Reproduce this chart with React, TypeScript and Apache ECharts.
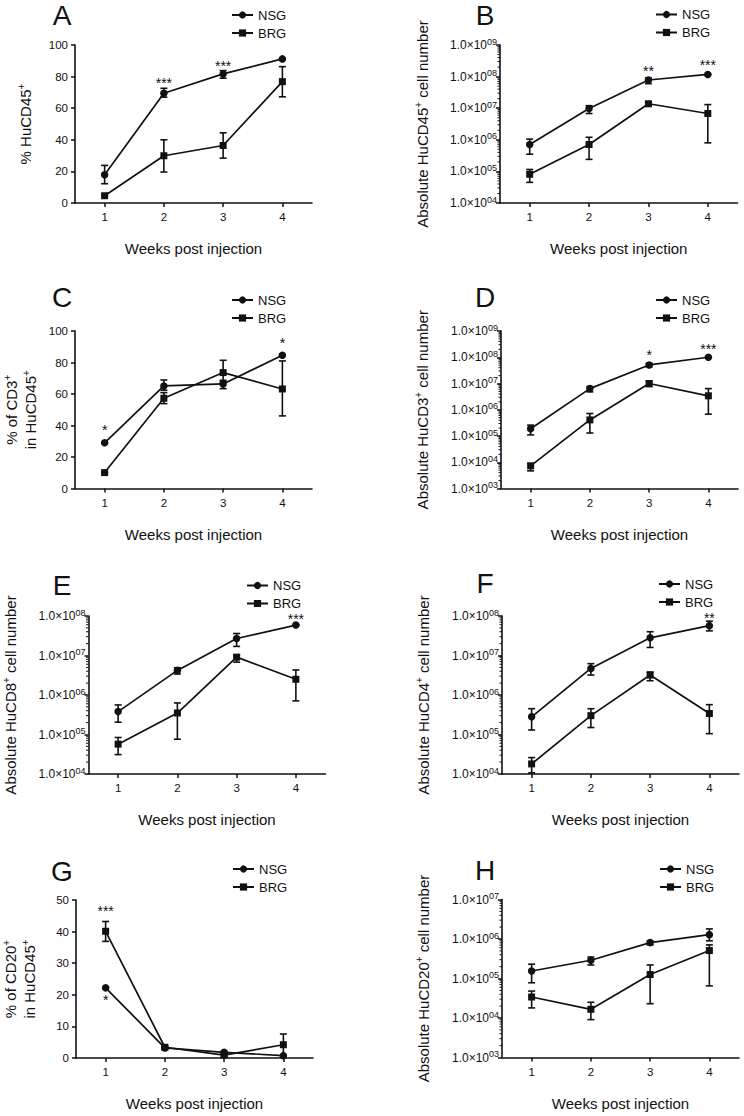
import React, { useEffect, useRef } from "react";
import * as echarts from "echarts";

const FONT = "Liberation Sans, Arial, Helvetica, sans-serif";
const INK = "#111";

const weeks = ["1", "2", "3", "4"];
const legendNames = ["NSG", "BRG"];
const xTitle = "Weeks post injection";

// A: % HuCD45+
const aNsg = [17.9, 69.5, 81.7, 91.2];
const aNsgLo = [12.2, 67.0, 79.0, 91.2];
const aNsgHi = [23.8, 72.6, 83.8, 91.2];
const aBrg = [4.6, 29.9, 36.4, 76.8];
const aBrgLo = [4.6, 19.6, 28.4, 67.2];
const aBrgHi = [4.6, 40.0, 44.4, 86.3];
const aStarIdx = [1, 2];
const aStarVal = [78.5, 89];
const aStarTxt = ["***", "***"];

// B: absolute HuCD45+
const bNsg = [7.1e5, 9.8e6, 7.8e7, 1.17e8];
const bNsgLo = [3.5e5, 6.8e6, 6.0e7, 1.17e8];
const bNsgHi = [1.05e6, 1.2e7, 9.1e7, 1.17e8];
const bBrg = [8.1e4, 7.1e5, 1.38e7, 6.8e6];
const bBrgLo = [4.5e4, 2.4e5, 1.2e7, 8.0e5];
const bBrgHi = [1.15e5, 1.2e6, 1.6e7, 1.3e7];
const bStarIdx = [2, 3];
const bStarVal = [2.0e8, 3.1e8];
const bStarTxt = ["**", "***"];

// C: % CD3+ in HuCD45+
const cNsg = [29.0, 65.1, 66.4, 84.6];
const cNsgLo = [29.0, 62.4, 63.4, 84.6];
const cNsgHi = [29.0, 68.9, 68.7, 84.6];
const cBrg = [10.1, 57.3, 73.6, 63.2];
const cBrgLo = [10.1, 53.9, 67.9, 46.1];
const cBrgHi = [10.1, 60.9, 81.4, 81.0];
const cStarIdx = [0, 3];
const cStarVal = [39.7, 94.7];
const cStarTxt = ["*", "*"];

// D: absolute HuCD3+
const dNsg = [1.9e5, 6.4e6, 5.1e7, 1.0e8];
const dNsgLo = [1.1e5, 4.8e6, 4.3e7, 1.0e8];
const dNsgHi = [2.6e5, 7.6e6, 5.9e7, 1.0e8];
const dBrg = [7.3e3, 4.1e5, 1.0e7, 3.4e6];
const dBrgLo = [4.7e3, 1.3e5, 7.6e6, 6.8e5];
const dBrgHi = [8.9e3, 7.2e5, 1.23e7, 6.4e6];
const dStarIdx = [2, 3];
const dStarVal = [1.75e8, 2.9e8];
const dStarTxt = ["*", "***"];

// E: absolute HuCD8+
const eNsg = [3.8e5, 4.2e6, 2.7e7, 5.9e7];
const eNsgLo = [2.05e5, 3.4e6, 1.7e7, 5.9e7];
const eNsgHi = [5.6e5, 4.9e6, 3.6e7, 5.9e7];
const eBrg = [5.7e4, 3.5e5, 9.1e6, 2.5e6];
const eBrgLo = [3.1e4, 7.6e4, 6.8e6, 7.1e5];
const eBrgHi = [8.4e4, 6.3e5, 1.02e7, 4.3e6];
const eStarIdx = [3];
const eStarVal = [1.07e8];
const eStarTxt = ["***"];

// F: absolute HuCD4+
const fNsg = [2.8e5, 4.7e6, 2.8e7, 5.7e7];
const fNsgLo = [1.3e5, 3.2e6, 1.6e7, 4.2e7];
const fNsgHi = [4.5e5, 6.2e6, 4.0e7, 7.4e7];
const fBrg = [1.8e4, 3.0e5, 3.2e6, 3.4e5];
const fBrgLo = [1.07e4, 1.5e5, 2.3e6, 1.05e5];
const fBrgHi = [2.6e4, 4.5e5, 3.8e6, 5.7e5];
const fStarIdx = [3];
const fStarVal = [1.15e8];
const fStarTxt = ["**"];

// G: % CD20+ in HuCD45+
const gNsg = [22.2, 3.2, 1.8, 0.74];
const gNsgLo = [22.2, 2.9, 1.5, 0.74];
const gNsgHi = [22.2, 3.5, 2.1, 0.74];
const gBrg = [40.1, 3.4, 0.9, 4.2];
const gBrgLo = [36.9, 3.0, 0.5, 0.7];
const gBrgHi = [43.2, 3.8, 1.3, 7.6];
const gStarIdx = [0, 0];
const gStarVal = [47.7, 19.7];
const gStarTxt = ["***", "*"];

// H: absolute HuCD20+
const hNsg = [1.55e5, 2.9e5, 8.1e5, 1.29e6];
const hNsgLo = [7.8e4, 2.2e5, 7.1e5, 9.0e5];
const hNsgHi = [2.3e5, 3.5e5, 8.9e5, 1.8e6];
const hBrg = [3.4e4, 1.66e4, 1.26e5, 5.1e5];
const hBrgLo = [1.8e4, 9.1e3, 2.3e4, 6.5e4];
const hBrgHi = [4.8e4, 2.5e4, 2.2e5, 7.1e5];
const hStarIdx: number[] = [];
const hStarVal: number[] = [];
const hStarTxt: string[] = [];

const panels = [
  { id: "A", log: false, min: 0, max: 100, interval: 20, yName: "{a|% HuCD45}{s|+}", nameGap: 40,
    nsg: aNsg, nsgLo: aNsgLo, nsgHi: aNsgHi, brg: aBrg, brgLo: aBrgLo, brgHi: aBrgHi,
    sIdx: aStarIdx, sVal: aStarVal, sTxt: aStarTxt,
    grid: { left: 75, top: 45, width: 237, height: 158 }, legend: { left: 226, top: 3.5 }, letter: [62, 15] },
  { id: "B", log: true, min: 1e4, max: 1e9, yName: "{a|Absolute HuCD45}{s|+}{a| cell number}", nameGap: 68,
    nsg: bNsg, nsgLo: bNsgLo, nsgHi: bNsgHi, brg: bBrg, brgLo: bBrgLo, brgHi: bBrgHi,
    sIdx: bStarIdx, sVal: bStarVal, sTxt: bStarTxt,
    grid: { left: 500, top: 45, width: 237.5, height: 158 }, legend: { left: 650, top: 3 }, letter: [485, 15] },
  { id: "C", log: false, min: 0, max: 100, interval: 20, yName: "{a|% of CD3}{s|+}\n{a|in HuCD45}{s|+}", nameGap: 35,
    nsg: cNsg, nsgLo: cNsgLo, nsgHi: cNsgHi, brg: cBrg, brgLo: cBrgLo, brgHi: cBrgHi,
    sIdx: cStarIdx, sVal: cStarVal, sTxt: cStarTxt,
    grid: { left: 75, top: 331, width: 237, height: 157.5 }, legend: { left: 226, top: 288.5 }, letter: [62, 297] },
  { id: "D", log: true, min: 1e3, max: 1e9, yName: "{a|Absolute HuCD3}{s|+}{a| cell number}", nameGap: 69,
    nsg: dNsg, nsgLo: dNsgLo, nsgHi: dNsgHi, brg: dBrg, brgLo: dBrgLo, brgHi: dBrgHi,
    sIdx: dStarIdx, sVal: dStarVal, sTxt: dStarTxt,
    grid: { left: 501, top: 331, width: 237, height: 157.5 }, legend: { left: 650, top: 288.5 }, letter: [485, 297] },
  { id: "E", log: true, min: 1e4, max: 1e8, yName: "{a|Absolute HuCD8}{s|+}{a| cell number}", nameGap: 69,
    nsg: eNsg, nsgLo: eNsgLo, nsgHi: eNsgHi, brg: eBrg, brgLo: eBrgLo, brgHi: eBrgHi,
    sIdx: eStarIdx, sVal: eStarVal, sTxt: eStarTxt,
    grid: { left: 88, top: 616, width: 237.5, height: 158 }, legend: { left: 241, top: 574 }, letter: [62, 585] },
  { id: "F", log: true, min: 1e4, max: 1e8, yName: "{a|Absolute HuCD4}{s|+}{a| cell number}", nameGap: 69,
    nsg: fNsg, nsgLo: fNsgLo, nsgHi: fNsgHi, brg: fBrg, brgLo: fBrgLo, brgHi: fBrgHi,
    sIdx: fStarIdx, sVal: fStarVal, sTxt: fStarTxt,
    grid: { left: 502, top: 616, width: 237, height: 158 }, legend: { left: 653, top: 572.5 }, letter: [485, 583] },
  { id: "G", log: false, min: 0, max: 50, interval: 10, yName: "{a|% of CD20}{s|+}\n{a|in HuCD45}{s|+}", nameGap: 37,
    nsg: gNsg, nsgLo: gNsgLo, nsgHi: gNsgHi, brg: gBrg, brgLo: gBrgLo, brgHi: gBrgHi,
    sIdx: gStarIdx, sVal: gStarVal, sTxt: gStarTxt,
    grid: { left: 76, top: 900, width: 237, height: 158 }, legend: { left: 227, top: 857.5 }, letter: [62, 871] },
  { id: "H", log: true, min: 1e3, max: 1e7, yName: "{a|Absolute HuCD20}{s|+}{a| cell number}", nameGap: 69,
    nsg: hNsg, nsgLo: hNsgLo, nsgHi: hNsgHi, brg: hBrg, brgLo: hBrgLo, brgHi: hBrgHi,
    sIdx: hStarIdx, sVal: hStarVal, sTxt: hStarTxt,
    grid: { left: 502, top: 899.5, width: 237, height: 158 }, legend: { left: 654, top: 857.5 }, letter: [485, 870] },
];

function errRender(params: any, api: any) {
  const i = api.value(0);
  const lo = api.coord([i, api.value(1)]);
  const hi = api.coord([i, api.value(2)]);
  const x = lo[0];
  const w = 3.5;
  const st = { stroke: INK, lineWidth: 1.6 };
  return {
    type: "group",
    children: [
      { type: "line", shape: { x1: x, y1: lo[1], x2: x, y2: hi[1] }, style: st },
      { type: "line", shape: { x1: x - w, y1: hi[1], x2: x + w, y2: hi[1] }, style: st },
      { type: "line", shape: { x1: x - w, y1: lo[1], x2: x + w, y2: lo[1] }, style: st },
    ],
  };
}

function starRender(params: any, api: any) {
  const p = api.coord([api.value(0), api.value(1)]);
  return {
    type: "text",
    x: p[0],
    y: p[1] + 4,
    style: {
      text: String(api.value(2)),
      fontSize: 14,
      fontFamily: FONT,
      fill: INK,
      textAlign: "center",
      textVerticalAlign: "middle",
    },
  };
}

function minorRender(params: any, api: any) {
  const y = api.coord([0, api.value(1)])[1];
  const x0 = params.coordSys.x;
  return { type: "line", shape: { x1: x0 - 2.5, y1: y, x2: x0, y2: y }, style: { stroke: INK, lineWidth: 1 } };
}

function buildOption() {
  const grid: any[] = [];
  const xAxis: any[] = [];
  const yAxis: any[] = [];
  const legend: any[] = [];
  const series: any[] = [];
  const graphic: any[] = [];

  panels.forEach((p, i) => {
    grid.push({ ...p.grid, containLabel: false });
    xAxis.push({
      type: "category",
      gridIndex: i,
      data: weeks,
      boundaryGap: true,
      name: xTitle,
      nameLocation: "middle",
      nameGap: 38,
      nameTextStyle: { fontSize: 15, color: INK, fontFamily: FONT },
      axisLine: { show: true, lineStyle: { color: INK, width: 1.6 } },
      axisTick: { show: true, alignWithLabel: true, length: 4, lineStyle: { color: INK, width: 1.5 } },
      axisLabel: { fontSize: 11.5, color: INK, fontFamily: FONT, margin: 8 },
      splitLine: { show: false },
    });
    const supRich = {
      a: { fontSize: 15, color: INK, fontFamily: FONT, lineHeight: 19 },
      s: { fontSize: 10, color: INK, fontFamily: FONT, padding: [0, 0, 8, 0], lineHeight: 19 },
    };
    const yBase: any = {
      gridIndex: i,
      min: p.min,
      max: p.max,
      name: p.yName,
      nameLocation: "middle",
      nameGap: p.nameGap,
      nameTextStyle: { rich: supRich },
      axisLine: { show: true, lineStyle: { color: INK, width: 1.6 } },
      axisTick: { show: true, length: 4, lineStyle: { color: INK, width: 1.5 } },
      splitLine: { show: false },
    };
    if (p.log) {
      yAxis.push({
        ...yBase,
        type: "log",
        logBase: 10,
        axisLabel: {
          margin: 3,
          formatter: (v: number) => {
            const e = Math.round(Math.log10(v));
            return "{a|1.0×10}{s|" + String(e).padStart(2, "0") + "}";
          },
          rich: {
            a: { fontSize: 12, color: INK, fontFamily: FONT },
            s: { fontSize: 9, color: INK, fontFamily: FONT, padding: [0, 0, 7, 0] },
          },
        },
      });
    } else {
      yAxis.push({
        ...yBase,
        type: "value",
        interval: p.interval,
        axisLabel: { fontSize: 11.5, color: INK, fontFamily: FONT, margin: 7 },
      });
    }

    legend.push({
      data: legendNames,
      orient: "vertical",
      left: p.legend.left,
      top: p.legend.top,
      itemWidth: 21,
      itemHeight: 9,
      itemGap: 5,
      selectedMode: false,
      textStyle: { fontSize: 13, color: INK, fontFamily: FONT },
    });

    const errData = (lo: number[], hi: number[]) => lo.map((l, k) => [k, l, hi[k]]);
    series.push({
      type: "custom", xAxisIndex: i, yAxisIndex: i, name: "NSG error", clip: false,
      renderItem: errRender, encode: { x: 0, y: [1, 2] }, data: errData(p.nsgLo, p.nsgHi), z: 3,
    });
    series.push({
      type: "custom", xAxisIndex: i, yAxisIndex: i, name: "BRG error", clip: false,
      renderItem: errRender, encode: { x: 0, y: [1, 2] }, data: errData(p.brgLo, p.brgHi), z: 3,
    });
    series.push({
      type: "line", name: "NSG", xAxisIndex: i, yAxisIndex: i, data: p.nsg,
      symbol: "circle", symbolSize: 7.5, showAllSymbol: true,
      lineStyle: { color: INK, width: 1.7 }, itemStyle: { color: INK }, z: 4,
    });
    series.push({
      type: "line", name: "BRG", xAxisIndex: i, yAxisIndex: i, data: p.brg,
      symbol: "rect", symbolSize: 7, showAllSymbol: true,
      lineStyle: { color: INK, width: 1.7 }, itemStyle: { color: INK }, z: 4,
    });
    if (p.sIdx.length) {
      series.push({
        type: "custom", xAxisIndex: i, yAxisIndex: i, name: "sig", clip: false,
        renderItem: starRender, encode: { x: 0, y: 1 },
        dimensions: ["x", "y", { name: "t", type: "ordinal" }],
        data: p.sIdx.map((k, j) => [k, p.sVal[j], p.sTxt[j]]), z: 5,
      });
    }
    if (p.log) {
      const e0 = Math.round(Math.log10(p.min));
      const e1 = Math.round(Math.log10(p.max));
      const minor: number[][] = [];
      for (let e = e0; e < e1; e++) {
        for (let k = 2; k <= 9; k++) minor.push([0, k * Math.pow(10, e)]);
      }
      series.push({
        type: "custom", xAxisIndex: i, yAxisIndex: i, name: "minor", clip: false,
        renderItem: minorRender, encode: { x: 0, y: 1 }, data: minor, silent: true, z: 2,
      });
    }

    graphic.push({
      type: "text",
      x: p.letter[0],
      y: p.letter[1],
      style: {
        text: p.id,
        fontSize: 28,
        fontFamily: FONT,
        fill: INK,
        textAlign: "center",
        textVerticalAlign: "middle",
      },
    });
  });

  return {
    animation: false,
    backgroundColor: "#ffffff",
    textStyle: { fontFamily: FONT },
    grid,
    xAxis,
    yAxis,
    legend,
    series,
    graphic,
  };
}

export default function App() {
  const ref = useRef<HTMLDivElement>(null);
  useEffect(() => {
    if (!ref.current) return;
    const chart = echarts.init(ref.current, undefined, { renderer: "svg" });
    chart.setOption(buildOption() as any);
    return () => chart.dispose();
  }, []);
  return (
    <div
      ref={ref}
      style={{ position: "absolute", left: 0, top: 0, width: 744, height: 1116, background: "#fff" }}
    />
  );
}
